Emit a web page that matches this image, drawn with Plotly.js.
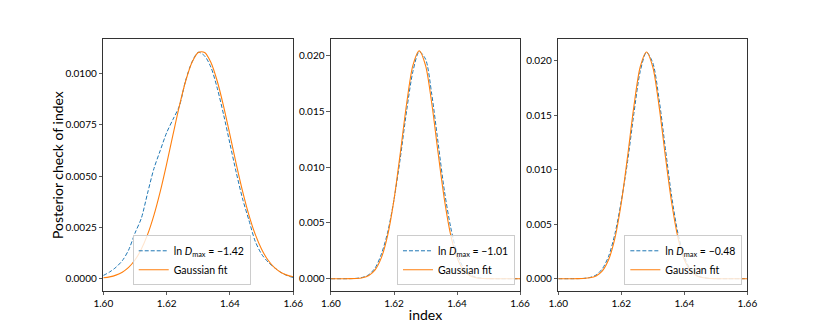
<!DOCTYPE html>
<html>
<head>
<meta charset="utf-8">
<script src="https://cdn.plot.ly/plotly-3.0.1.min.js"></script>
<style>
  body { margin: 0; background: #fff; }
  #chart { width: 831px; height: 332px; }
</style>
</head>
<body>
<div id="chart"></div>
<script>
// index grid shared by all three panels
const xGrid = [1.600, 1.602, 1.604, 1.606, 1.608, 1.610, 1.612, 1.614, 1.616, 1.618,
               1.620, 1.622, 1.624, 1.626, 1.628, 1.630, 1.632, 1.634, 1.636, 1.638,
               1.640, 1.642, 1.644, 1.646, 1.648, 1.650, 1.652, 1.654, 1.656, 1.658, 1.660];

// ln D_max labels per panel
const lnDmax = ["−1.42", "−1.01", "−0.48"];

// posterior check (dashed) per panel
const kde1 = [0.00016, 0.00033, 0.00056, 0.00088, 0.00140, 0.00222, 0.00294, 0.00418, 0.00537, 0.00625,
              0.00711, 0.00776, 0.00840, 0.00965, 0.01055, 0.01103, 0.01085, 0.01030, 0.00928, 0.00799,
              0.00658, 0.00517, 0.00389, 0.00285, 0.00182, 0.00120, 0.00082, 0.00055, 0.00032, 0.00016, 0.00006];
const kde2 = [0, 0.000001, 0.000002, 0.000009, 0.000036, 0.000122, 0.000365, 0.00096, 0.00221, 0.00417,
              0.00708, 0.01081, 0.01503, 0.01855, 0.02032, 0.01966, 0.01647, 0.01215, 0.00785, 0.00459,
              0.00229, 0.00100, 0.000385, 0.000129, 0.000038, 0.00001, 0.000003, 0, 0, 0, 0];
const kde3 = [0, 0, 0.000001, 0.000006, 0.0000307, 0.000109, 0.000338, 0.000914, 0.00207, 0.00414,
              0.00713, 0.01076, 0.01515, 0.01900, 0.02077, 0.01980, 0.01645, 0.01192, 0.00753, 0.00414,
              0.00199, 0.00083, 0.000304, 0.0000966, 0.0000268, 0.000006, 0.000001, 0, 0, 0, 0];

// gaussian fit (solid) per panel
const fit1 = [0.000048, 0.000095, 0.000179, 0.000322, 0.000555, 0.000914, 0.001437, 0.002160, 0.003101, 0.004258,
              0.005588, 0.007006, 0.008396, 0.009619, 0.010530, 0.011017, 0.011017, 0.010530, 0.009619, 0.008396,
              0.007006, 0.005588, 0.004258, 0.003101, 0.002160, 0.001437, 0.000914, 0.000555, 0.000322, 0.000179, 0.000095];
const fit2 = [0, 0.0000003, 0.0000015, 0.0000068, 0.0000274, 0.0000963, 0.000296, 0.000799, 0.001888, 0.003907,
              0.007083, 0.011251, 0.015659, 0.019094, 0.020400, 0.019094, 0.015659, 0.011251, 0.007083, 0.003907,
              0.001888, 0.000799, 0.000296, 0.0000963, 0.0000274, 0.0000068, 0.0000015, 0.0000003, 0, 0, 0];
const fit3 = [0, 0.0000002, 0.0000011, 0.0000052, 0.0000218, 0.0000804, 0.000258, 0.000722, 0.001761, 0.003744,
              0.006941, 0.011220, 0.015810, 0.019421, 0.020800, 0.019421, 0.015810, 0.011220, 0.006941, 0.003744,
              0.001761, 0.000722, 0.000258, 0.0000804, 0.0000218, 0.0000052, 0.0000011, 0.0000002, 0, 0, 0];

const xTicks = [1.60, 1.62, 1.64, 1.66];
const xTickText = ["1.60", "1.62", "1.64", "1.66"];
const yTicks1 = [0, 0.0025, 0.005, 0.0075, 0.01];
const yTickText1 = ["0.0000", "0.0025", "0.0050", "0.0075", "0.0100"];
const yTicks2 = [0, 0.005, 0.01, 0.015, 0.02];
const yTickText2 = ["0.000", "0.005", "0.010", "0.015", "0.020"];

const kdes = [kde1, kde2, kde3];
const fits = [fit1, fit2, fit3];

const FONT = "Lato, 'Liberation Sans', sans-serif";
const BLUE = "#1f77b4";
const ORANGE = "#ff7f0e";

let traces = [];
for (let i = 0; i < 3; i++) {
    let sfx = i == 0 ? "" : String(i + 1);
    traces.push({
        x: xGrid, y: kdes[i], type: "scatter", mode: "lines",
        line: {color: BLUE, width: 1, dash: "4px,2px", shape: "spline", smoothing: 0.8},
        name: "ln <i>D</i><sub>max</sub> = " + lnDmax[i],
        xaxis: "x" + sfx, yaxis: "y" + sfx, legend: "legend" + sfx,
    });
    traces.push({
        x: xGrid, y: fits[i], type: "scatter", mode: "lines",
        line: {color: ORANGE, width: 1.1, shape: "spline", smoothing: 0.8},
        name: "Gaussian fit",
        xaxis: "x" + sfx, yaxis: "y" + sfx, legend: "legend" + sfx,
    });
}

function axisStyle(extra) {
    return Object.assign({
        showline: true, mirror: true, linecolor: "#333", linewidth: 1,
        ticks: "outside", ticklen: 3.5, tickwidth: 0.8, tickcolor: "#333",
        showgrid: false, zeroline: false,
        tickfont: {family: FONT, size: 10, color: "#000"},
    }, extra);
}

function legendStyle(xr) {
    return {
        x: xr, xanchor: "right", y: 0.1407, yanchor: "bottom",
        bgcolor: "rgba(255,255,255,0.8)", bordercolor: "#cccccc", borderwidth: 1,
        font: {family: FONT, size: 10.5, color: "#000"},
        tracegroupgap: 0, itemwidth: 30,
    };
}

const yDom = [0.1244, 0.8816];

var layout = {
    width: 831, height: 332,
    margin: {l: 0, r: 0, t: 0, b: 0},
    paper_bgcolor: "#fff", plot_bgcolor: "#fff",
    showlegend: true,
    xaxis: axisStyle({domain: [0.1243, 0.3529], anchor: "y", range: [1.6, 1.66], tickvals: xTicks, ticktext: xTickText}),
    yaxis: axisStyle({domain: yDom, anchor: "x", range: [-0.00058, 0.01166], tickvals: yTicks1, ticktext: yTickText1}),
    xaxis2: axisStyle({domain: [0.3983, 0.6258], anchor: "y2", range: [1.6, 1.66], tickvals: xTicks, ticktext: xTickText,
        title: {text: "index", font: {family: FONT, size: 14, color: "#000"}, standoff: 2}}),
    yaxis2: axisStyle({domain: yDom, anchor: "x2", range: [-0.00107, 0.02143], tickvals: yTicks2, ticktext: yTickText2}),
    xaxis3: axisStyle({domain: [0.6718, 0.8993], anchor: "y3", range: [1.6, 1.66], tickvals: xTicks, ticktext: xTickText}),
    yaxis3: axisStyle({domain: yDom, anchor: "x3", range: [-0.0011, 0.02196], tickvals: yTicks2, ticktext: yTickText2}),
    legend: legendStyle(0.3017),
    legend2: legendStyle(0.6197),
    legend3: legendStyle(0.8933),
    annotations: [{
        text: "Posterior check of index", textangle: -90,
        xref: "paper", yref: "paper", x: 0.0685, y: 0.503,
        xanchor: "center", yanchor: "middle", showarrow: false,
        font: {family: FONT, size: 14, color: "#000"},
    }],
};

Plotly.newPlot("chart", traces, layout, {staticPlot: true, displayModeBar: false});
</script>
</body>
</html>
